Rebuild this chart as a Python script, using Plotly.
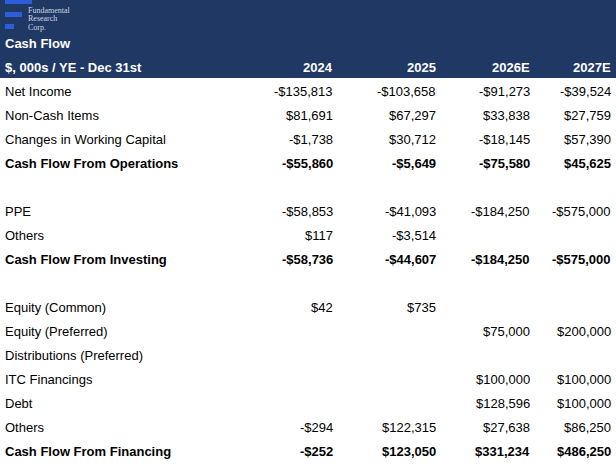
import plotly.graph_objects as go

labels = ["Net Income", "Non-Cash Items", "Changes in Working Capital", "Cash Flow From Operations", "",
          "PPE", "Others", "Cash Flow From Investing", "",
          "Equity (Common)", "Equity (Preferred)", "Distributions (Preferred)", "ITC Financings", "Debt", "Others",
          "Cash Flow From Financing"]
bold = [False, False, False, True, False, False, False, True, False, False, False, False, False, False, False, True]
years = ["2024", "2025", "2026E", "2027E"]
v2024 = ["-$135,813", "$81,691", "-$1,738", "-$55,860", "", "-$58,853", "$117", "-$58,736", "",
         "$42", "", "", "", "", "-$294", "-$252"]
v2025 = ["-$103,658", "$67,297", "$30,712", "-$5,649", "", "-$41,093", "-$3,514", "-$44,607", "",
         "$735", "", "", "", "", "$122,315", "$123,050"]
v2026 = ["-$91,273", "$33,838", "-$18,145", "-$75,580", "", "-$184,250", "", "-$184,250", "",
         "", "$75,000", "", "$100,000", "$128,596", "$27,638", "$331,234"]
v2027 = ["-$39,524", "$27,759", "$57,390", "$45,625", "", "-$575,000", "", "-$575,000", "",
         "", "$200,000", "", "$100,000", "$100,000", "$86,250", "$486,250"]

cols = [v2024, v2025, v2026, v2027]
col_x = [335, 438, 532, 613]
F = "Liberation Sans, Arial, sans-serif"

fig = go.Figure()
shapes = [
    dict(type="rect", x0=-30, x1=700, y0=-30, y1=78, fillcolor="#1f3864", line_width=0, layer="below"),
    dict(type="rect", x0=5, x1=32, y0=-10, y1=4, fillcolor="#2b5ed8", line_width=0),
    dict(type="rect", x0=5, x1=22, y0=12, y1=17, fillcolor="#2b5ed8", line_width=0),
    dict(type="rect", x0=5, x1=14, y0=24, y1=29, fillcolor="#2b5ed8", line_width=0),
]
ann = []
def A(x, y, t, anchor="left", b=False, color="black", size=13, fam=F):
    ann.append(dict(x=x, y=y, text=f"<b>{t}</b>" if b else t, showarrow=False, xanchor=anchor,
                    yanchor="middle", font=dict(family=fam, size=size, color=color)))
for i, t in enumerate(["Fundamental", "Research", "Corp."]):
    A(26, 10 + i * 8.5, t, size=8, color="#d0d4e0", fam="Liberation Serif, serif")
A(3, 43, "Cash Flow", b=True, color="white")
A(3, 67, "$, 000s / YE - Dec 31st", b=True, color="white")
for x, yr in zip(col_x, years):
    A(x, 67, yr, anchor="right", b=True, color="white")
for r, lab in enumerate(labels):
    y = 91 + 24 * r
    A(3, y, lab, b=bold[r])
    for x, c in zip(col_x, cols):
        if c[r]:
            A(x, y, c[r], anchor="right", b=bold[r])

fig.update_layout(width=616, height=464, margin=dict(l=0, r=0, t=0, b=0),
                  plot_bgcolor="white", paper_bgcolor="white",
                  xaxis=dict(range=[0, 616], visible=False, fixedrange=True),
                  yaxis=dict(range=[464, 0], visible=False, fixedrange=True),
                  shapes=shapes, annotations=ann, showlegend=False)
fig.write_html("out.html", config={"displayModeBar": False},
               post_script="document.body.style.margin='0';document.body.style.overflow='hidden';")
